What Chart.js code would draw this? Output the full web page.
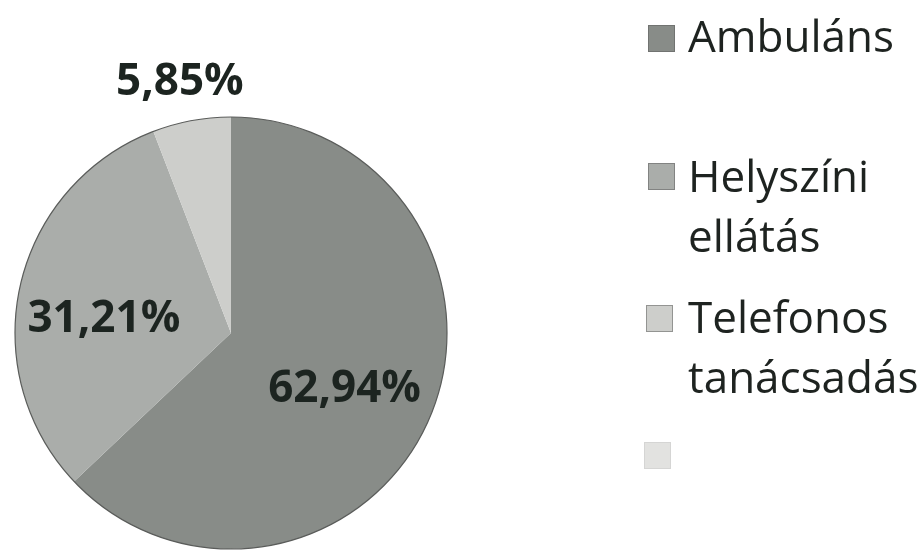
<!DOCTYPE html>
<html>
<head>
<meta charset="utf-8">
<script src="https://cdn.jsdelivr.net/npm/chart.js@4/dist/chart.umd.min.js"></script>
<style>
  html, body { margin: 0; padding: 0; background: #ffffff; }
  #wrap { position: relative; width: 920px; height: 551px; overflow: hidden; }
  #chart { position: absolute; left: 0; top: 0; }
  .item { position: absolute; font-family: "Open Sans", sans-serif; font-size: 44px; line-height: 60px; color: #1e2320; white-space: nowrap; }
  .sw { position: absolute; width: 27px; height: 27px; box-sizing: border-box; border: 1px solid rgba(90,90,90,0.5); }
</style>
</head>
<body>
<div id="wrap">
  <canvas id="chart" width="920" height="551"></canvas>
  <div id="legend"></div>
</div>
<script>
// ---- data ----
const categories = ["Ambuláns", "Helyszíni\nellátás", "Telefonos\ntanácsadás", ""];
const values = [62.94, 31.21, 5.85, 0];
const valueLabels = ["62,94%", "31,21%", "5,85%", ""];
const colors = ["#888c88", "#aaadaa", "#cdcecb", "#e2e2e0"];

// ---- layout (not data) ----
const labelRadiusFactor = [0.583, 0.593, 1.195, 0];
const labelAngleShift = [2.3, -5.8, -0.9, 0]; // degrees
const legendTops = [5, 145, 286, 424];
const swatchTops = [25, 163, 305, 442];
const swatchX = [648, 648, 646, 644];

const labelPlugin = {
  id: 'sliceLabels',
  afterDatasetsDraw(chart) {
    const ctx = chart.ctx;
    const meta = chart.getDatasetMeta(0);
    const a0 = meta.data[0];
    ctx.save();
    ctx.beginPath();
    ctx.arc(a0.x, a0.y, a0.outerRadius, 0, Math.PI * 2);
    ctx.strokeStyle = '#5a5c5a';
    ctx.lineWidth = 1.2;
    ctx.stroke();
    ctx.font = 'bold 44px "Open Sans", sans-serif';
    ctx.fillStyle = '#1c2420';
    ctx.textAlign = 'center';
    ctx.textBaseline = 'middle';
    meta.data.forEach((arc, i) => {
      if (!valueLabels[i]) return;
      const mid = (arc.startAngle + arc.endAngle) / 2 + labelAngleShift[i] * Math.PI / 180;
      const r = arc.outerRadius * labelRadiusFactor[i];
      ctx.fillText(valueLabels[i], arc.x + Math.cos(mid) * r, arc.y + Math.sin(mid) * r + 2);
    });
    ctx.restore();
  }
};

new Chart(document.getElementById('chart'), {
  type: 'pie',
  data: {
    labels: categories,
    datasets: [{
      data: values,
      backgroundColor: colors,
      borderWidth: 0
    }]
  },
  options: {
    responsive: false,
    animation: false,
    layout: { padding: { left: 15, right: 473, top: 117, bottom: 2 } },
    plugins: {
      legend: { display: false },
      tooltip: { enabled: false }
    }
  },
  plugins: [labelPlugin]
});

// HTML legend
const legend = document.getElementById('legend');
categories.forEach((c, i) => {
  const sw = document.createElement('div');
  sw.className = 'sw';
  sw.style.left = swatchX[i] + 'px';
  sw.style.top = swatchTops[i] + 'px';
  sw.style.background = colors[i];
  if (i === 3) sw.style.borderColor = 'rgba(200,200,200,0.5)';
  legend.appendChild(sw);
  const t = document.createElement('div');
  t.className = 'item';
  t.style.left = '688px';
  t.style.top = legendTops[i] + 'px';
  t.innerHTML = c.split('\n').join('<br>');
  legend.appendChild(t);
});
</script>
</body>
</html>
